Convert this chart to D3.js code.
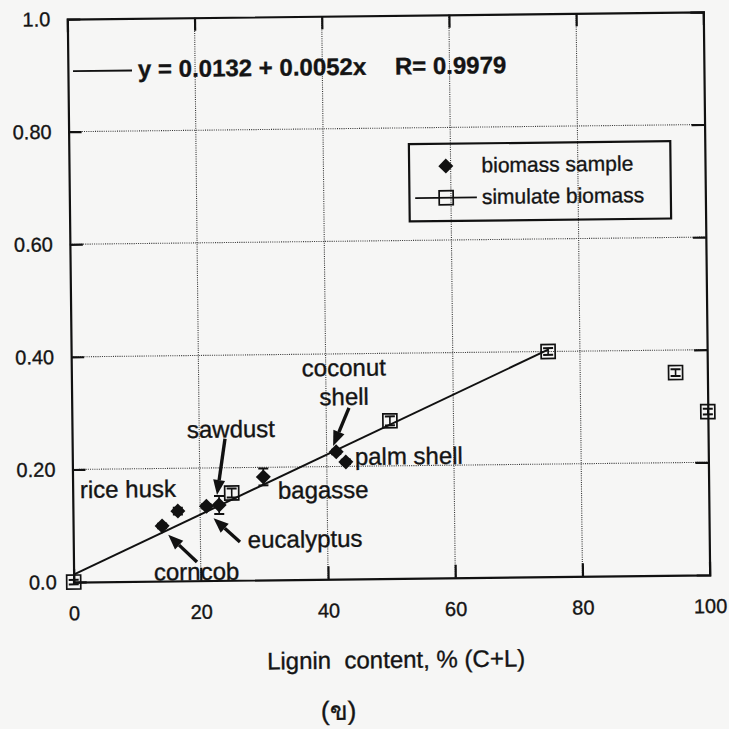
<!DOCTYPE html>
<html>
<head>
<meta charset="utf-8">
<script src="https://cdn.jsdelivr.net/npm/d3@7"></script>
<style>
  html, body { margin: 0; padding: 0; background: #f6f6f5; }
  svg { display: block; }
  text { font-family: "Liberation Sans", Arial, sans-serif; fill: #141414; stroke: #141414; stroke-width: 0.35px; }
</style>
</head>
<body>
<svg id="chart" width="729" height="729"></svg>
<script>
// Axis ticks
const xTicks = [0, 20, 40, 60, 80, 100];
const yTicks = [0, 0.2, 0.4, 0.6, 0.8, 1.0];
const yTickLabels = ["0.0", "0.20", "0.40", "0.60", "0.80", "1.0"];

// Measured biomass samples (lignin %, ratio, error)
const sampleNames = ["corncob", "rice husk", "eucalyptus", "sawdust", "bagasse", "coconut shell", "palm shell"];
const sampleLignin = [14, 16.5, 21, 23, 30, 41.5, 43];
const sampleRatio = [0.098, 0.124, 0.132, 0.134, 0.183, 0.226, 0.208];
const sampleErr = [0.004, 0.006, 0.004, 0.016, 0.015, 0.004, 0.004];

// Simulated biomass mixtures
const simLignin = [0, 25, 50, 75, 95, 100];
const simRatio = [0.0, 0.155, 0.28, 0.40, 0.36, 0.29];
const simErr = [0.004, 0.008, 0.008, 0.006, 0.006, 0.005];

// Linear fit
const fitIntercept = 0.0132;
const fitSlope = 0.0052;
const fitR = 0.9979;
const fitRange = [0, 75];

const svg = d3.select("#chart");
const plotL = 70.5, plotR = 706.5, plotT = 15.5, plotB = 578.5;

// whole figure sits slightly tilted on the page
const g = svg.append("g").attr("transform", "rotate(-0.65, 388.5, 297)");

const x = d3.scaleLinear().domain([0, 100]).range([plotL, plotR]);
const y = d3.scaleLinear().domain([0, 1]).range([plotB, plotT]);

// dotted grid
const grid = g.append("g");
grid.selectAll("line.gx").data(xTicks.slice(1, -1)).join("line")
  .attr("x1", d => x(d)).attr("x2", d => x(d))
  .attr("y1", plotT).attr("y2", plotB)
  .attr("stroke", "#333").attr("stroke-width", 1.1).attr("stroke-dasharray", "1,1.2");
grid.selectAll("line.gy").data(yTicks.slice(1, -1)).join("line")
  .attr("y1", d => y(d)).attr("y2", d => y(d))
  .attr("x1", plotL).attr("x2", plotR)
  .attr("stroke", "#333").attr("stroke-width", 1.1).attr("stroke-dasharray", "1,1.2");

// axes with inward ticks on all four sides
const tk = 13;
const axB = d3.axisBottom(x).tickValues(xTicks).tickSize(-tk).tickPadding(24).tickFormat(d3.format("d"));
const axT = d3.axisTop(x).tickValues(xTicks).tickSize(-tk).tickFormat("");
const axL = d3.axisLeft(y).tickValues(yTicks).tickSize(-tk).tickPadding(17)
  .tickFormat((d, i) => yTickLabels[i]);
const axR = d3.axisRight(y).tickValues(yTicks).tickSize(-tk).tickFormat("");

function styleAxis(sel) {
  sel.select(".domain").attr("stroke", "#111").attr("stroke-width", 2.2);
  sel.selectAll(".tick line").attr("stroke", "#111").attr("stroke-width", 2.2);
  sel.selectAll(".tick text").attr("font-size", 20).attr("fill", "#141414")
    .attr("font-family", "Liberation Sans, Arial, sans-serif");
}
g.append("g").attr("transform", `translate(0,${plotB})`).call(axB).call(styleAxis);
g.append("g").attr("transform", `translate(0,${plotT})`).call(axT).call(styleAxis);
g.append("g").attr("transform", `translate(${plotL},0)`).call(axL).call(styleAxis);
g.append("g").attr("transform", `translate(${plotR},0)`).call(axR).call(styleAxis);
// drop the end ticks that coincide with the frame
g.selectAll(".tick").filter(d => d === 0 || d === 100 || d === 1).select("line").remove();

// fitted line
const fitLine = d3.line().x(d => x(d)).y(d => y(fitIntercept + fitSlope * d));
g.append("path").datum(fitRange).attr("d", fitLine)
  .attr("fill", "none").attr("stroke", "#111").attr("stroke-width", 2);

// shapes
function diamondPath(r) { return `M0,${-r}L${r},0L0,${r}L${-r},0Z`; }
function errBar(sel, xs, ys, es, cap) {
  sel.append("line").attr("x1", xs).attr("x2", xs).attr("y1", y(ys - es)).attr("y2", y(ys + es))
    .attr("stroke", "#111").attr("stroke-width", 1.6);
  [ys - es, ys + es].forEach(v => sel.append("line")
    .attr("x1", xs - cap).attr("x2", xs + cap).attr("y1", y(v)).attr("y2", y(v))
    .attr("stroke", "#111").attr("stroke-width", 2));
}

// simulated biomass squares
const sq = 14;
simLignin.forEach((lv, i) => {
  const cx = x(lv), cy = y(simRatio[i]);
  const s = g.append("g");
  errBar(s, cx, simRatio[i], simErr[i], 5);
  s.append("rect").attr("x", cx - sq / 2).attr("y", cy - sq / 2).attr("width", sq).attr("height", sq)
    .attr("fill", "none").attr("stroke", "#111").attr("stroke-width", 1.7);
});

// biomass samples
sampleLignin.forEach((lv, i) => {
  const cx = x(lv), cy = y(sampleRatio[i]);
  const s = g.append("g");
  errBar(s, cx, sampleRatio[i], sampleErr[i], 5);
  s.append("path").attr("d", diamondPath(7.5)).attr("transform", `translate(${cx},${cy})`)
    .attr("fill", "#111");
});

// sample labels and pointer arrows
const labelPos = {
  "corncob": { tx: 150.8, ty: 577.8 },
  "rice husk": { tx: 77.7, ty: 494.5 },
  "eucalyptus": { tx: 245, ty: 546.4 },
  "sawdust": { tx: 185.4, ty: 435.7 },
  "bagasse": { tx: 275.7, ty: 497.5 },
  "coconut shell": { tx: 343, ty: 375.5, lines: ["coconut", "shell"], anchor: "middle" },
  "palm shell": { tx: 353, ty: 464.6 }
};
const arrows = {
  "corncob": { hx: 6, hy: 9, tx: 194, ty: 559.8 },
  "eucalyptus": { hx: 7, hy: 12, tx: 237.2, ty: 540.3 },
  "sawdust": { hx: -2, hy: -10, tx: 223.4, ty: 437 },
  "coconut shell": { hx: -3, hy: -6, tx: 347.7, ty: 407.5 }
};
const lab = g.append("g");
sampleNames.forEach((name, i) => {
  const p = labelPos[name];
  const t = lab.append("text").attr("font-size", 24).attr("text-anchor", p.anchor || "start");
  const lines = p.lines || [name];
  lines.forEach((ln, k) => t.append("tspan").attr("x", p.tx).attr("y", p.ty + k * 29).text(ln));
  const a = arrows[name];
  if (a) {
    const hx = x(sampleLignin[i]) + a.hx, hy = y(sampleRatio[i]) + a.hy;
    const ang = Math.atan2(hy - a.ty, hx - a.tx);
    const L = 15, Wd = 6;
    const bx = hx - L * Math.cos(ang), by = hy - L * Math.sin(ang);
    lab.append("line").attr("x1", a.tx).attr("y1", a.ty).attr("x2", bx).attr("y2", by)
      .attr("stroke", "#111").attr("stroke-width", 3.4);
    const px = -Math.sin(ang) * Wd, py = Math.cos(ang) * Wd;
    lab.append("path").attr("d", `M${hx},${hy}L${bx + px},${by + py}L${bx - px},${by - py}Z`)
      .attr("fill", "#111");
  }
});

// fit equation
g.append("line").attr("x1", 75.6).attr("x2", 134.6).attr("y1", 67.6).attr("y2", 67.6)
  .attr("stroke", "#111").attr("stroke-width", 1.8);
const eq = g.append("text").attr("x", 140.6).attr("y", 74.5).attr("font-size", 24).attr("font-weight", "bold");
eq.append("tspan").text(`y = ${fitIntercept} + ${fitSlope}x`);
eq.append("tspan").attr("x", 397.5).text(`R= ${fitR}`);

// legend
const lg = g.append("g");
lg.append("rect").attr("x", 410.6).attr("y", 144.4).attr("width", 261.4).attr("height", 77.3)
  .attr("fill", "none").attr("stroke", "#111").attr("stroke-width", 2.2);
lg.append("path").attr("d", diamondPath(7.5)).attr("transform", "translate(447.3,166.7)").attr("fill", "#111");
lg.append("text").attr("x", 483).attr("y", 173.4).attr("font-size", 21).text("biomass sample");
lg.append("line").attr("x1", 416.3).attr("x2", 478).attr("y1", 198.4).attr("y2", 198.4)
  .attr("stroke", "#111").attr("stroke-width", 1.8);
lg.append("rect").attr("x", 447.3 - sq / 2).attr("y", 198.4 - sq / 2).attr("width", sq).attr("height", sq)
  .attr("fill", "none").attr("stroke", "#111").attr("stroke-width", 1.7);
lg.append("text").attr("x", 483).attr("y", 205).attr("font-size", 21).text("simulate biomass");

// axis title and panel tag
g.append("text").attr("x", 392).attr("y", 668).attr("text-anchor", "middle").attr("font-size", 24)
  .style("white-space", "pre").text("Lignin  content, % (C+L)");
g.append("text").attr("x", 334).attr("y", 719).attr("text-anchor", "middle").attr("font-size", 26)
  .text("(ข)");
</script>
</body>
</html>
